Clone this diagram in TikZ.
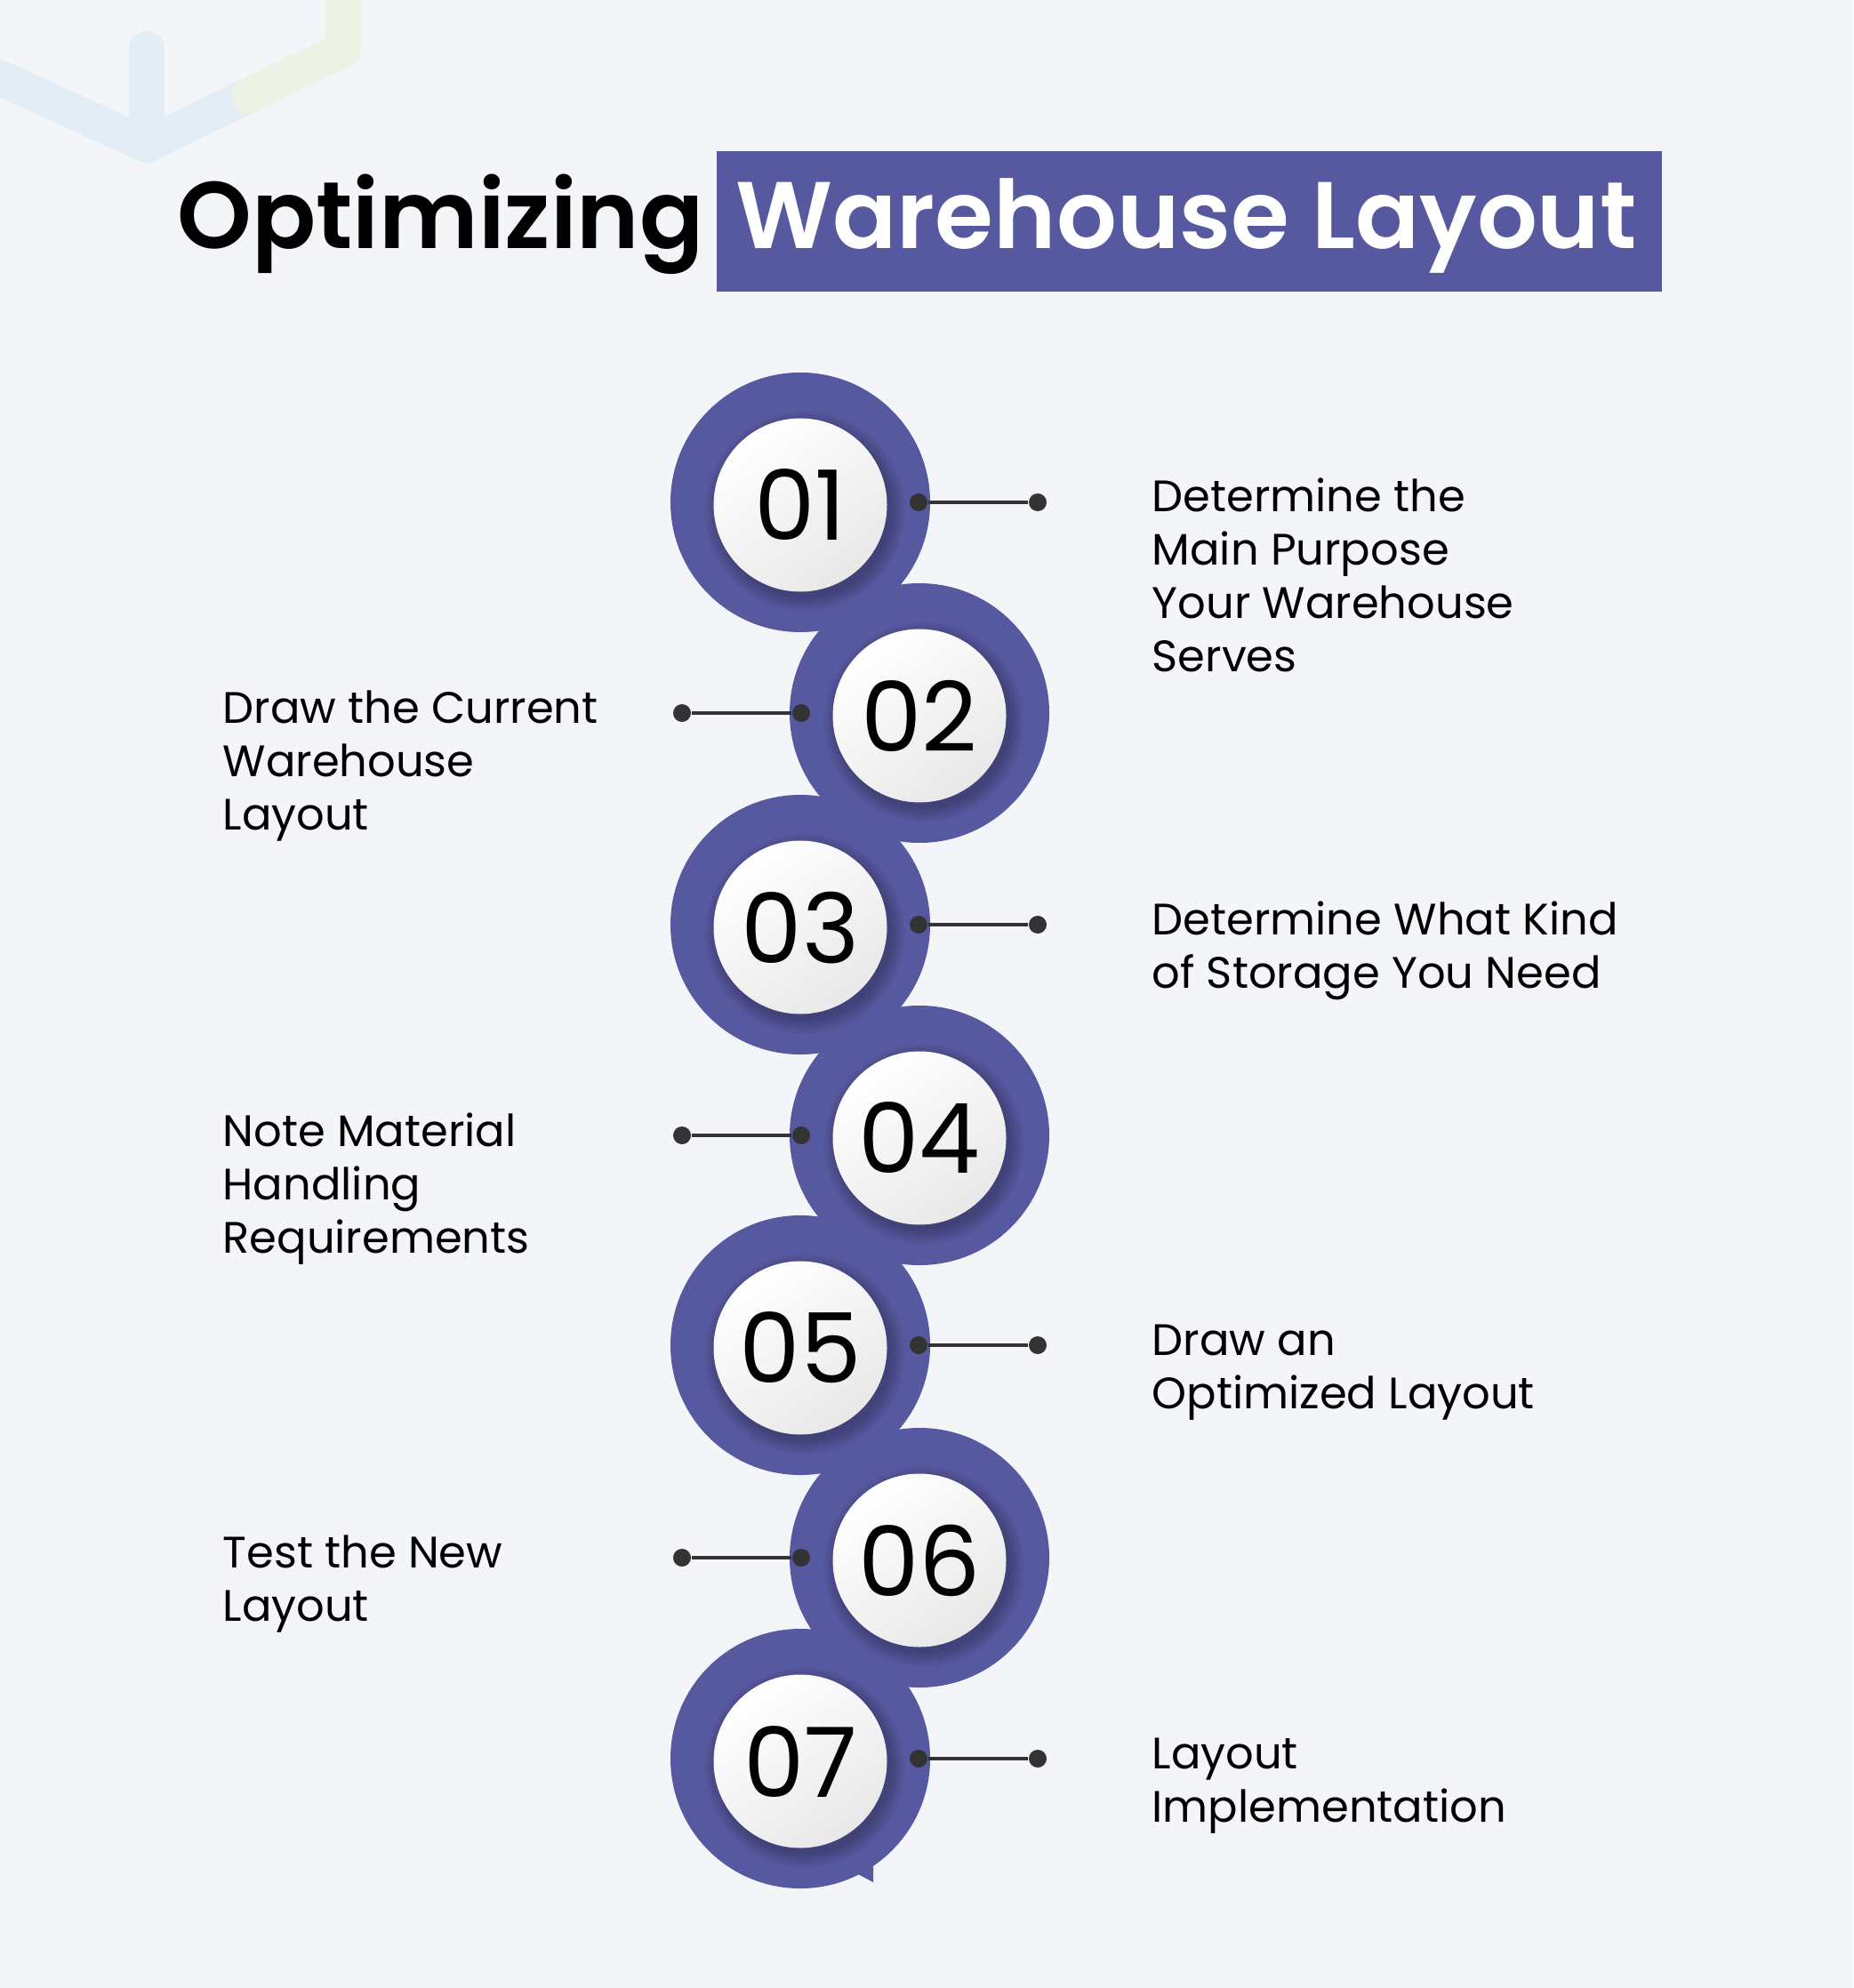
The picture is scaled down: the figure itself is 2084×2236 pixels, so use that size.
\documentclass[tikz,border=0pt]{standalone}
\usepackage{fontspec}
\setmainfont{Poppins}
\newfontfamily\titlefont{Poppins}[UprightFont=* SemiBold]
\usetikzlibrary{calc}
\definecolor{stepblue}{RGB}{87,89,160}
\definecolor{pagebg}{RGB}{243,245,249}
\definecolor{dotgray}{RGB}{51,51,51}
\definecolor{decoblue}{RGB}{226,237,246}
\definecolor{decogreen}{RGB}{237,243,228}

\begin{document}
\begin{tikzpicture}[x=0.1mm, y=-0.1mm,
    stepring/.style={circle, fill=stepblue, minimum size=29.2mm, inner sep=0pt},
    stepdisc/.style={circle, minimum size=19.5mm, inner sep=0pt, top color=white, bottom color=black!9, shading angle=35, text depth=0pt, font=\fontsize{31pt}{31pt}\selectfont},
    stepdot/.style={circle, fill=dotgray, minimum size=2mm, inner sep=0pt},
    stepline/.style={draw=dotgray, line width=0.9pt},
    steplabel/.style={anchor=base west, align=left, inner sep=0pt, font=\fontsize{14.1pt}{17.07pt}\selectfont},
    titletext/.style={anchor=base, inner sep=0pt, font=\fontsize{30.3pt}{30.3pt}\titlefont}]
        \useasboundingbox (0,0) rectangle (2084,2236);
        \fill[pagebg] (0,0) rectangle (2084,2236);
        \draw[decoblue, line width=4mm, line cap=round, line join=round] (-30,74) -- (165,163) -- (280,107);
        \draw[decogreen, line width=4mm, line cap=round, line join=round] (280,107) -- (386,56) -- (386,-30);
        \draw[decoblue, line width=4mm, line cap=round] (165,55) -- (165,163);

        \node[titletext, anchor=base east] (title1) at (792,280) {Optimizing};
        \node[fill=stepblue, minimum width=106.3mm, minimum height=15.8mm, inner sep=0pt] (titlebox) at (1337.5,249) {};
        \node[titletext, anchor=base west, text=white] (title2) at (827,280) {Warehouse Layout};

        \foreach \n/\cx/\cy/\s in {7/900/1978/1, 6/1034/1752/-1, 5/900/1513/1, 4/1034/1277/-1, 3/900/1040/1, 2/1034/802/-1, 1/900/565/1}{
            \node[stepring] (r\n) at (\cx,\cy) {};
            \fill[stepblue] ($(r\n)+(82*\s,121)$) -- ($(r\n)+(82*\s,139)$) -- ($(r\n)+(65*\s,130)$) -- cycle;
            \foreach \k in {0,...,4}
                \fill[black, opacity=.05] ($(r\n)+(5,10)$) circle [radius=9.8mm+\k*0.35mm];
            \node[stepdisc] (n\n) at ($(r\n)+(0,3)$) {0\n};
        }

        \foreach \n/\s in {1/1, 2/-1, 3/1, 4/-1, 5/1, 6/-1, 7/1}{
            \node[stepdot] (a\n) at ($(r\n)+(133*\s,0)$) {};
            \node[stepdot] (b\n) at ($(r\n)+(267*\s,0)$) {};
            \draw[stepline] (a\n) -- (b\n);
        }

        \node[steplabel] (l1) at (1295,755) {Determine the\\Main Purpose\\Your Warehouse\\Serves};
        \node[steplabel] (l2) at (250,933) {Draw the Current\\Warehouse\\Layout};
        \node[steplabel] (l3) at (1295,1111) {Determine What Kind\\of Storage You Need};
        \node[steplabel] (l4) at (250,1409) {Note Material\\Handling\\Requirements};
        \node[steplabel] (l5) at (1295,1584) {Draw an\\Optimized Layout};
        \node[steplabel] (l6) at (250,1823) {Test the New\\Layout};
        \node[steplabel] (l7) at (1295,2049) {Layout\\Implementation};
    \end{tikzpicture}
\end{document}
